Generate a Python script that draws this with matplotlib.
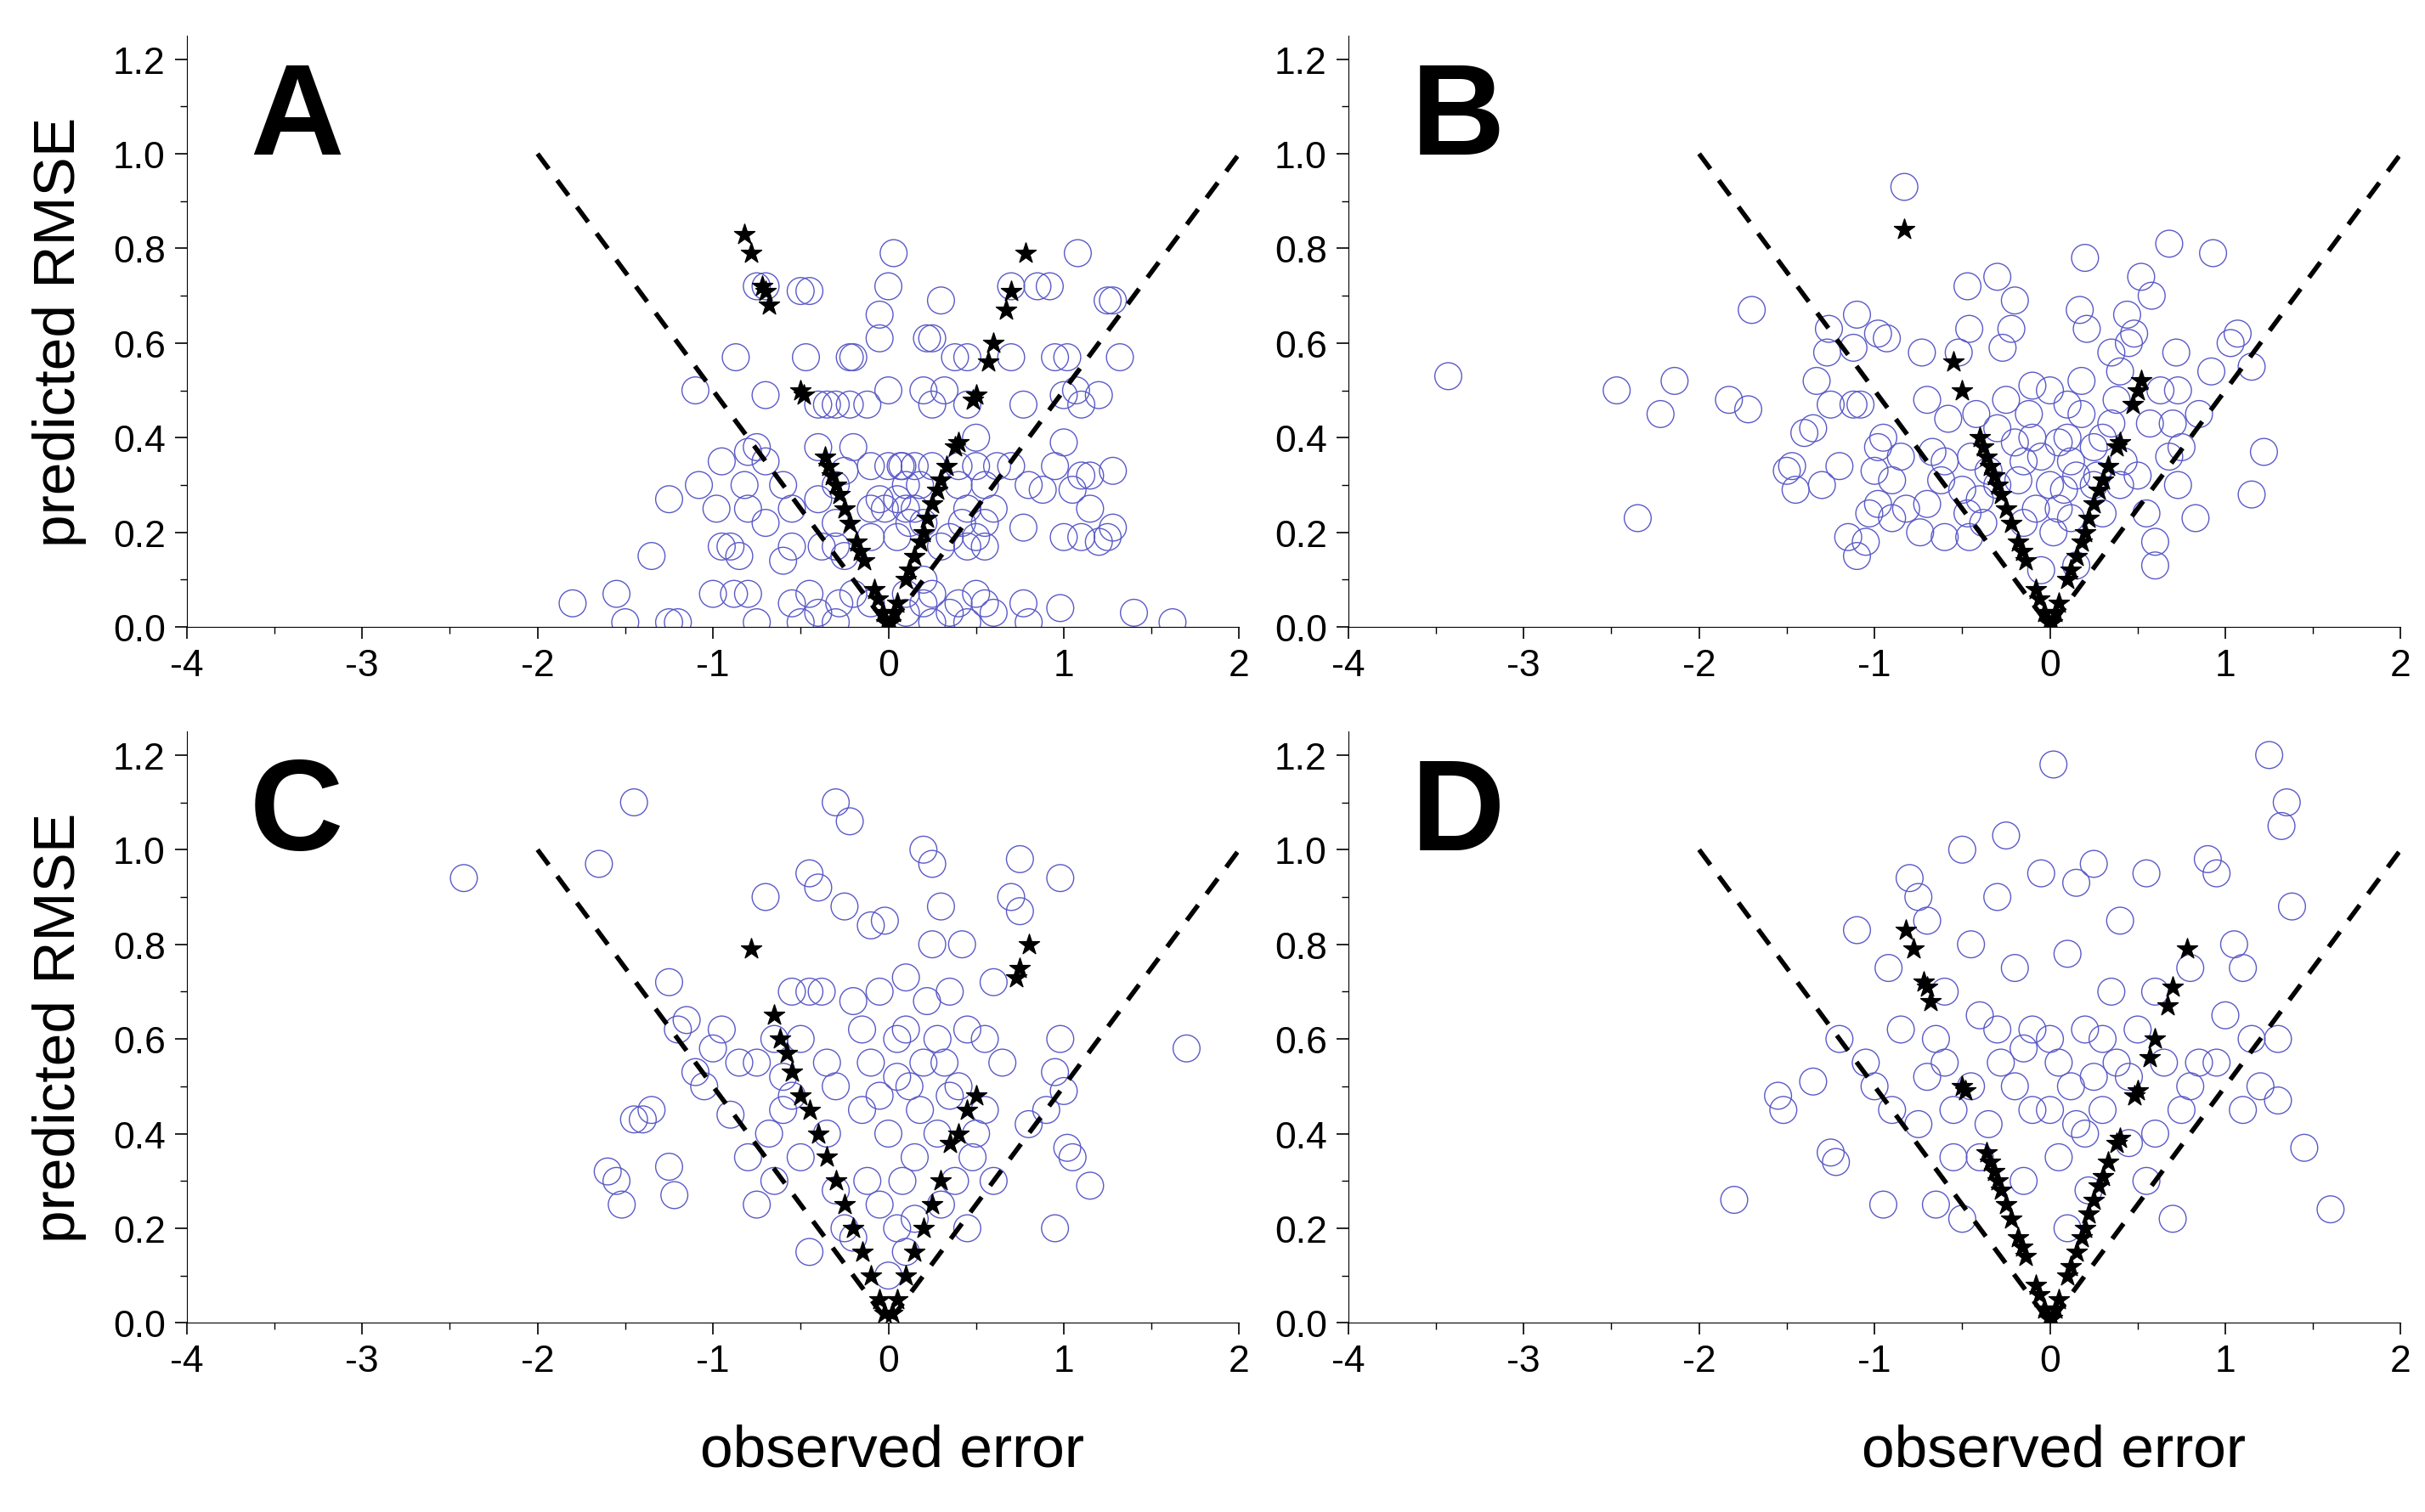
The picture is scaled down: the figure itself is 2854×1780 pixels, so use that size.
import matplotlib.pyplot as plt
import numpy as np

plt.rcParams['font.family'] = ['Liberation Sans Narrow', 'Liberation Sans', 'DejaVu Sans']
plt.rcParams['axes.unicode_minus'] = False

# circles: observed error vs predicted RMSE
a_x = [0.03, 1.08, -0.75, -0.7, -0.5, -0.45, 0.0, 0.7, 0.85, 0.92, 0.3, 1.25, 1.28, -0.05, -0.05, 0.22, 0.25,
       -0.87, -0.47, -0.22, -0.2, 0.38, 0.45, 0.7, 0.95, 1.02, 1.32, -1.1, -0.7, 0.0, 0.2, 0.32, 1.07, 1.2,
       -0.4, -0.35, -0.3, -0.22, -0.12, 0.25, 0.45, 0.77, 1.0, 1.1, 0.5, 1.0, -0.8, -0.75, -0.4, -0.2,
       -0.95, -0.7, 0.07, -0.25, -0.1, 0.0, 0.08, 0.15, 0.25, 0.4, 0.5, 0.62, 0.7, 0.95, 1.1, 1.15, 1.28,
       -1.08, -0.82, -0.6, -0.3, 0.1, 0.18, 0.4, 0.55, 0.8, 0.88, 1.05, -1.25, -0.4, -0.05, 0.05,
       -0.98, -0.8, -0.55, -0.1, -0.02, 0.1, 0.15, 0.45, 0.6, 1.15, -0.7, -0.3, 0.12, 0.2, 0.42, 0.55, 0.77, 1.28, 1.25,
       -0.1, 0.05, 0.35, 0.5, 1.0, 1.1, 1.2, -0.95, -0.9, -0.55, -0.38, -0.3, 0.3, 0.45, 0.55,
       -1.35, -0.85, -0.6, -0.25, 0.2, -1.55, -1.0, -0.88, -0.8, -0.45, -0.2, 0.1, 0.25, 0.5,
       -1.8, -0.55, -0.28, -0.1, 0.2, 0.4, 0.55, 0.77, 0.98, -0.4, 0.1, 0.35, 0.6, 1.4,
       -1.5, -1.25, -1.2, -0.75, -0.5, -0.3, 0.25, 0.45, 0.8, 1.62]
a_y = [0.79, 0.79, 0.72, 0.72, 0.71, 0.71, 0.72, 0.72, 0.72, 0.72, 0.69, 0.69, 0.69, 0.66, 0.61, 0.61, 0.61,
       0.57, 0.57, 0.57, 0.57, 0.57, 0.57, 0.57, 0.57, 0.57, 0.57, 0.5, 0.49, 0.5, 0.5, 0.5, 0.5, 0.49,
       0.47, 0.47, 0.47, 0.47, 0.47, 0.47, 0.47, 0.47, 0.49, 0.47, 0.4, 0.39, 0.37, 0.38, 0.38, 0.38,
       0.35, 0.35, 0.34, 0.33, 0.34, 0.34, 0.34, 0.34, 0.34, 0.34, 0.34, 0.34, 0.34, 0.34, 0.32, 0.32, 0.33,
       0.3, 0.3, 0.3, 0.3, 0.3, 0.3, 0.3, 0.3, 0.3, 0.29, 0.29, 0.27, 0.27, 0.27, 0.27,
       0.25, 0.25, 0.25, 0.25, 0.25, 0.25, 0.25, 0.25, 0.25, 0.25, 0.22, 0.22, 0.22, 0.22, 0.22, 0.22, 0.21, 0.21, 0.19,
       0.19, 0.19, 0.19, 0.19, 0.19, 0.19, 0.18, 0.17, 0.17, 0.17, 0.17, 0.17, 0.17, 0.17, 0.17,
       0.15, 0.15, 0.14, 0.15, 0.1, 0.07, 0.07, 0.07, 0.07, 0.07, 0.07, 0.07, 0.07, 0.07,
       0.05, 0.05, 0.05, 0.05, 0.05, 0.05, 0.05, 0.05, 0.04, 0.03, 0.03, 0.03, 0.03, 0.03,
       0.01, 0.01, 0.01, 0.01, 0.01, 0.01, 0.01, 0.01, 0.01, 0.01]

b_pts = [(-3.43, 0.53), (-2.47, 0.5), (-2.14, 0.52), (-2.35, 0.23), (-2.22, 0.45), (-1.83, 0.48), (-1.72, 0.46),
         (-1.7, 0.67), (-1.5, 0.33), (-1.45, 0.29), (-1.47, 0.34), (-1.4, 0.41), (-1.35, 0.42), (-1.33, 0.52),
         (-1.3, 0.3), (-1.25, 0.47), (-1.2, 0.34), (-1.15, 0.19), (-1.1, 0.15), (-1.05, 0.18), (-1.12, 0.47),
         (-1.08, 0.47), (-1.27, 0.58), (-1.26, 0.63), (-1.12, 0.59), (-1.1, 0.66), (-0.98, 0.62), (-0.93, 0.61),
         (-0.83, 0.93), (-0.73, 0.58), (-0.7, 0.48), (-0.95, 0.4), (-0.98, 0.38), (-1.0, 0.33), (-0.9, 0.31),
         (-0.85, 0.36), (-0.98, 0.26), (-1.03, 0.24), (-0.9, 0.23), (-0.82, 0.25), (-0.74, 0.2), (-0.7, 0.26),
         (-0.67, 0.37), (-0.62, 0.31), (-0.6, 0.19), (-0.58, 0.44), (-0.52, 0.58), (-0.47, 0.72), (-0.46, 0.63),
         (-0.42, 0.45), (-0.45, 0.36), (-0.5, 0.29), (-0.47, 0.24), (-0.46, 0.19), (-0.38, 0.22), (-0.3, 0.74),
         (-0.27, 0.59), (-0.2, 0.69), (-0.22, 0.63), (-0.25, 0.48), (-0.3, 0.42), (-0.2, 0.39), (-0.18, 0.31),
         (-0.12, 0.45), (-0.1, 0.51), (-0.05, 0.36), (-0.08, 0.25), (-0.05, 0.12), (0.0, 0.5), (0.05, 0.39),
         (0.1, 0.47), (0.08, 0.29), (0.12, 0.23), (0.12, 0.35), (0.15, 0.13), (0.18, 0.45), (0.18, 0.52),
         (0.2, 0.78), (0.17, 0.67), (0.21, 0.63), (0.25, 0.38), (0.27, 0.32), (0.3, 0.24), (0.35, 0.58),
         (0.38, 0.48), (0.4, 0.54), (0.42, 0.35), (0.44, 0.66), (0.45, 0.6), (0.48, 0.62), (0.5, 0.32),
         (0.52, 0.74), (0.55, 0.24), (0.58, 0.7), (0.57, 0.43), (0.6, 0.18), (0.6, 0.13), (0.63, 0.5),
         (0.68, 0.81), (0.68, 0.36), (0.7, 0.43), (0.72, 0.58), (0.73, 0.5), (0.73, 0.3), (0.75, 0.38),
         (0.83, 0.23), (0.85, 0.45), (0.93, 0.79), (0.92, 0.54), (1.03, 0.6), (1.07, 0.62), (1.15, 0.28),
         (1.15, 0.55), (1.22, 0.37), (-0.15, 0.35), (0.0, 0.3), (0.1, 0.4), (-0.3, 0.3), (0.3, 0.4), (0.02, 0.2),
         (-0.35, 0.33), (-0.6, 0.35), (-0.15, 0.22), (0.05, 0.25), (0.25, 0.3), (0.4, 0.3), (-0.4, 0.27),
         (-0.1, 0.4), (0.15, 0.32), (0.35, 0.43)]

c_pts = [(-2.42, 0.94), (-1.45, 1.1), (-1.65, 0.97), (-1.6, 0.32), (-1.55, 0.3), (-1.52, 0.25), (-1.45, 0.43),
         (-1.4, 0.43), (-1.35, 0.45), (-1.25, 0.33), (-1.22, 0.27), (-1.2, 0.62), (-1.25, 0.72), (-1.15, 0.64),
         (-1.1, 0.53), (-1.05, 0.5), (-1.0, 0.58), (-0.95, 0.62), (-0.9, 0.44), (-0.85, 0.55), (-0.8, 0.35),
         (-0.75, 0.25), (-0.7, 0.9), (-0.65, 0.6), (-0.6, 0.45), (-0.55, 0.7), (-0.5, 0.35), (-0.45, 0.95),
         (-0.5, 0.6), (-0.4, 0.92), (-0.38, 0.7), (-0.35, 0.55), (-0.3, 0.28), (-0.3, 1.1), (-0.25, 0.88),
         (-0.22, 1.06), (-0.2, 0.68), (-0.15, 0.45), (-0.12, 0.3), (-0.1, 0.55), (-0.05, 0.7), (-0.02, 0.85),
         (0.0, 0.4), (0.05, 0.6), (0.08, 0.3), (0.1, 0.73), (0.12, 0.5), (0.15, 0.22), (0.18, 0.45), (0.2, 1.0),
         (0.25, 0.97), (0.22, 0.68), (0.28, 0.6), (0.3, 0.88), (0.32, 0.55), (0.35, 0.7), (0.38, 0.3), (0.4, 0.5),
         (0.42, 0.8), (0.45, 0.62), (0.48, 0.35), (0.5, 0.4), (0.55, 0.6), (0.6, 0.3), (0.65, 0.55), (0.7, 0.9),
         (0.75, 0.98), (0.75, 0.87), (0.8, 0.42), (0.9, 0.45), (0.95, 0.53), (0.98, 0.6), (1.0, 0.49),
         (0.98, 0.94), (1.02, 0.37), (1.05, 0.35), (0.95, 0.2), (1.15, 0.29), (1.7, 0.58), (-0.68, 0.4),
         (-0.45, 0.15), (-0.2, 0.18), (0.3, 0.25), (0.1, 0.15), (-0.6, 0.52), (0.25, 0.8), (-0.1, 0.84),
         (0.6, 0.72), (-0.35, 0.4), (0.45, 0.2), (-0.25, 0.2), (0.0, 0.1), (-0.05, 0.25), (0.15, 0.35),
         (-0.75, 0.55), (-0.55, 0.48), (-0.3, 0.5), (-0.15, 0.62), (0.05, 0.52), (0.2, 0.55), (0.35, 0.48),
         (-0.45, 0.7), (0.1, 0.62), (0.28, 0.4), (-0.05, 0.48), (0.55, 0.45), (-0.65, 0.3), (0.05, 0.2)]

d_pts = [(-1.8, 0.26), (-1.55, 0.48), (-1.52, 0.45), (-1.35, 0.51), (-1.25, 0.36), (-1.22, 0.34), (-1.2, 0.6),
         (-1.1, 0.83), (-1.05, 0.55), (-1.0, 0.5), (-0.95, 0.25), (-0.92, 0.75), (-0.9, 0.45), (-0.85, 0.62),
         (-0.8, 0.94), (-0.75, 0.9), (-0.7, 0.52), (-0.7, 0.85), (-0.65, 0.25), (-0.6, 0.55), (-0.55, 0.35),
         (-0.5, 1.0), (-0.45, 0.8), (-0.4, 0.65), (-0.35, 0.42), (-0.3, 0.9), (-0.28, 0.55), (-0.25, 1.03),
         (-0.2, 0.75), (-0.15, 0.58), (-0.1, 0.45), (-0.05, 0.95), (0.02, 1.18), (0.0, 0.6), (0.05, 0.35),
         (0.1, 0.78), (0.12, 0.5), (0.15, 0.93), (0.2, 0.62), (0.22, 0.28), (0.25, 0.97), (0.3, 0.45),
         (0.35, 0.7), (0.38, 0.55), (0.4, 0.85), (0.45, 0.38), (0.5, 0.62), (0.55, 0.95), (0.6, 0.4),
         (0.65, 0.55), (0.7, 0.22), (0.75, 0.45), (0.8, 0.75), (0.85, 0.55), (0.9, 0.98), (0.95, 0.95),
         (1.0, 0.65), (1.05, 0.8), (1.1, 0.45), (1.15, 0.6), (1.2, 0.5), (1.25, 1.2), (1.3, 0.47), (1.35, 1.1),
         (1.32, 1.05), (1.38, 0.88), (1.45, 0.37), (1.6, 0.24), (-0.75, 0.42), (-0.5, 0.22), (0.1, 0.2),
         (0.2, 0.4), (-0.15, 0.3), (0.6, 0.7), (1.1, 0.75), (1.3, 0.6), (-0.45, 0.5), (0.3, 0.6), (-0.6, 0.7),
         (0.0, 0.45), (-0.3, 0.62), (0.45, 0.52), (-0.55, 0.45), (-0.2, 0.5), (0.05, 0.55), (0.15, 0.42),
         (0.25, 0.52), (-0.4, 0.35), (-0.1, 0.62), (0.55, 0.3), (0.8, 0.5), (-0.65, 0.6), (0.95, 0.55)]

# stars along the V (shared shape) and outliers per panel
v_stars = [(-0.36, 0.36), (-0.34, 0.34), (-0.32, 0.32), (-0.3, 0.3), (-0.28, 0.28), (-0.25, 0.25),
           (-0.22, 0.22), (-0.18, 0.18), (-0.16, 0.16), (-0.14, 0.14), (-0.08, 0.08), (-0.06, 0.06),
           (-0.03, 0.03), (-0.01, 0.01), (0.01, 0.01), (0.03, 0.03), (0.05, 0.05), (0.1, 0.1), (0.12, 0.12),
           (0.15, 0.15), (0.18, 0.18), (0.2, 0.2), (0.22, 0.23), (0.25, 0.26), (0.28, 0.29), (0.3, 0.31),
           (0.33, 0.34), (0.38, 0.38), (0.4, 0.39)]
ad_star_out = [(-0.82, 0.83), (-0.78, 0.79), (-0.72, 0.72), (-0.7, 0.71), (-0.68, 0.68), (-0.5, 0.5),
               (-0.48, 0.49), (0.48, 0.48), (0.5, 0.49), (0.57, 0.56), (0.6, 0.6), (0.67, 0.67),
               (0.7, 0.71), (0.78, 0.79)]
b_star_out = [(-0.83, 0.84), (-0.55, 0.56), (-0.5, 0.5), (0.47, 0.47), (0.5, 0.5), (0.52, 0.52)]
c_stars = [(-0.78, 0.79), (0.8, 0.8), (0.75, 0.75), (0.73, 0.73), (0.5, 0.48), (0.45, 0.45), (0.4, 0.4),
           (0.35, 0.38), (-0.65, 0.65), (-0.62, 0.6), (-0.58, 0.57), (-0.55, 0.53), (-0.5, 0.48),
           (-0.45, 0.45), (-0.4, 0.4), (-0.35, 0.35), (-0.3, 0.3), (-0.25, 0.25), (-0.2, 0.2), (-0.15, 0.15),
           (-0.1, 0.1), (-0.05, 0.05), (-0.02, 0.02), (0.02, 0.02), (0.05, 0.05), (0.1, 0.1), (0.15, 0.15),
           (0.2, 0.2), (0.25, 0.25), (0.3, 0.3)]

panels = [
    ("A", list(zip(a_x, a_y)), v_stars + ad_star_out),
    ("B", b_pts, [p for p in v_stars if p[0] > -0.4] + [(-0.4, 0.4), (-0.38, 0.38)] + b_star_out),
    ("C", c_pts, c_stars),
    ("D", d_pts, v_stars + ad_star_out),
]

fig = plt.figure(figsize=(28.54, 17.81), dpi=100)
boxes = [(0.077, 0.585), (0.556, 0.585), (0.077, 0.125), (0.556, 0.125)]
for (lab, circ, stars), (l, b) in zip(panels, boxes):
    ax = fig.add_axes([l, b, 0.434, 0.391])
    cx, cy = np.array(circ).T
    sx, sy = np.array(stars).T
    ax.scatter(cx, cy, s=520, facecolors='none', edgecolors='#5a5ac8', linewidths=1.0, zorder=2)
    ax.plot([-2, 0, 2], [1, 0, 1], ls=(0, (4, 3)), color='black', lw=4, zorder=3)
    ax.scatter(sx, sy, s=330, marker='*', color='black', zorder=4)
    ax.set_xlim(-4, 2)
    ax.set_ylim(0, 1.25)
    ax.set_xticks(range(-4, 3))
    ax.set_yticks(np.arange(0, 1.21, 0.2))
    ax.set_yticklabels([f"{v:.1f}" for v in np.arange(0, 1.21, 0.2)])
    ax.set_xticks(np.arange(-3.5, 2, 1), minor=True)
    ax.set_yticks(np.arange(0.1, 1.21, 0.2), minor=True)
    ax.spines[['top', 'right']].set_visible(False)
    ax.tick_params(which='major', direction='out', length=10, width=1.2, labelsize=32, pad=8)
    ax.tick_params(which='minor', direction='out', length=6, width=1.0)
    ax.text(0.06, 0.8, lab, transform=ax.transAxes, fontsize=110, fontweight='bold',
            family=['Liberation Sans', 'DejaVu Sans'])
    if lab in ("A", "C"):
        ax.set_ylabel("predicted RMSE", fontsize=50, family=['Liberation Sans', 'DejaVu Sans'], labelpad=22)
    if lab in ("C", "D"):
        ax.set_xlabel("observed error", fontsize=50, family=['Liberation Sans', 'DejaVu Sans'])
        ax.xaxis.set_label_coords(0.67, -0.17)

fig.savefig("out.png", dpi=100)
